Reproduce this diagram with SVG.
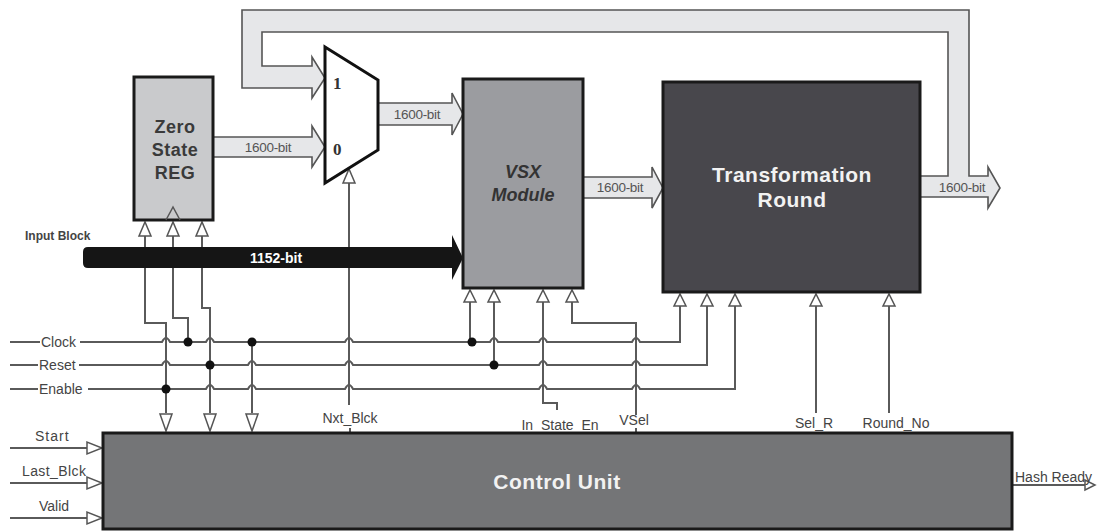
<svg xmlns="http://www.w3.org/2000/svg" width="1097" height="532" viewBox="0 0 1097 532">
<style>
.box{stroke:#1a1a1a;stroke-width:3}
.bus{fill:#e6e7e9;stroke:#555;stroke-width:1.6}
.sig{fill:none;stroke:#5a5a5a;stroke-width:2}
.tri{fill:#fff;stroke:#555;stroke-width:1.5}
.dot{fill:#111}
.lbl{font-family:"Liberation Sans",Arial,sans-serif;font-size:14px;fill:#444}
.bw{font-family:"Liberation Sans",Arial,sans-serif;font-size:13.5px;fill:#555;text-anchor:middle;letter-spacing:-0.3px}
.title{font-family:"Liberation Sans",Arial,sans-serif;font-weight:bold;text-anchor:middle}
</style>
<rect width="1097" height="532" fill="#fff"/>
<g id="connectors">
  <!-- feedback bus + output -->
  <polygon class="bus" points="920,176 948,176 948,32 262,32 262,66 312,66 312,57 325,78 312,98 312,88 242,88 242,10 969,10 969,176 988,176 988,167 1000,188 988,208 988,197 920,197"/>
  <text class="bw" x="962" y="192" font-size="12.5">1600-bit</text>
  <!-- zero reg to mux -->
  <polygon class="bus" points="213,137 312,137 312,126 325,147 312,167 312,157 213,157"/>
  <text class="bw" x="268" y="152">1600-bit</text>
  <!-- mux to VSX -->
  <polygon class="bus" points="378,103 452,103 452,93 463,114 452,135 452,125 378,125"/>
  <text class="bw" x="417" y="119">1600-bit</text>
  <!-- VSX to TR -->
  <polygon class="bus" points="583,177 652,177 652,167 663,188 652,208 652,198 583,198"/>
  <text class="bw" x="620" y="192" font-size="12.5">1600-bit</text>

  <!-- vertical signal lines -->
  <path class="sig" d="M145,236 V323 H166 V413"/>
  <path class="sig" d="M173,236 V318 H188 V342"/>
  <path class="sig" d="M202,236 V308 H210 V413"/>
  <path class="sig" d="M252,342 V413"/>
  <path class="sig" d="M349,182 V405 M350,428 V433"/>
  <path class="sig" d="M470,301 V342"/>
  <path class="sig" d="M494,301 V365"/>
  <path class="sig" d="M543,301 V403 H557 V410"/>
  <path class="sig" d="M572,301 V323 H636 V415 M636,428 V433"/>
  <path class="sig" d="M816,306 V413"/>
  <path class="sig" d="M889,306 V413"/>

  <!-- horizontal signals -->
  <path class="sig" d="M10,342 H40 M80,342 H162 Q166,334 170,342 H206 Q210,334 214,342 H345 Q349,334 353,342 H490 Q494,334 498,342 H539 Q543,334 547,342 H632 Q636,334 640,342 H680 V306"/>
  <path class="sig" d="M10,365 H38 M79,365 H162 Q166,357 170,365 H248 Q252,357 256,365 H345 Q349,357 353,365 H539 Q543,357 547,365 H632 Q636,357 640,365 H707 V306"/>
  <path class="sig" d="M10,389 H38 M88,389 H206 Q210,381 214,389 H248 Q252,381 256,389 H345 Q349,381 353,389 H539 Q543,381 547,389 H632 Q636,381 640,389 H735 V306"/>

  <circle class="dot" cx="188" cy="342" r="4.5"/>
  <circle class="dot" cx="252" cy="342" r="4.5"/>
  <circle class="dot" cx="472" cy="342" r="4.5"/>
  <circle class="dot" cx="210" cy="365" r="4.5"/>
  <circle class="dot" cx="494" cy="365" r="4.5"/>
  <circle class="dot" cx="166" cy="389" r="4.5"/>

  <!-- left inputs and output -->
  <path class="sig" d="M10,448 H87 M10,483 H87 M10,518 H87 M1012,485 H1086"/>
  <polygon class="tri" points="87,442 87,454 102,448"/>
  <polygon class="tri" points="87,477 87,489 102,483"/>
  <polygon class="tri" points="87,512 87,524 102,518"/>
  <polygon class="tri" points="1085,480 1085,490 1095,485"/>

  <!-- up triangles -->
  <polygon class="tri" points="139,236 151,236 145,222"/>
  <polygon class="tri" points="167,236 179,236 173,222"/>
  <polygon class="tri" points="196,236 208,236 202,222"/>
  <polygon class="tri" points="343,183 355,183 349,169"/>
  <polygon class="tri" points="464,302 476,302 470,290"/>
  <polygon class="tri" points="488,302 500,302 494,290"/>
  <polygon class="tri" points="537,302 549,302 543,290"/>
  <polygon class="tri" points="566,302 578,302 572,290"/>
  <polygon class="tri" points="674,306 686,306 680,294"/>
  <polygon class="tri" points="701,306 713,306 707,294"/>
  <polygon class="tri" points="729,306 741,306 735,294"/>
  <polygon class="tri" points="810,306 822,306 816,294"/>
  <polygon class="tri" points="883,306 895,306 889,294"/>
  <!-- down triangles into control unit -->
  <polygon class="tri" points="160,414 172,414 166,431"/>
  <polygon class="tri" points="204,414 216,414 210,431"/>
  <polygon class="tri" points="246,414 258,414 252,431"/>

  <!-- input block bus -->
  <path d="M88,247 H452 V235 L463,258 L452,280 V268 H88 Q83,268 83,263 V252 Q83,247 88,247 Z" fill="#151515"/>
  <text class="title" x="276" y="263" font-size="14" fill="#fff">1152-bit</text>
  <text x="25" y="240" font-family="Liberation Sans, Arial, sans-serif" font-size="12" font-weight="bold" fill="#444">Input Block</text>

  <!-- signal labels -->
  <text class="lbl" x="41" y="347">Clock</text>
  <text class="lbl" x="39" y="370" font-size="14.5">Reset</text>
  <text class="lbl" x="39" y="394" font-size="14.5">Enable</text>
  <text class="lbl" x="35" y="441" font-size="13" letter-spacing="1">Start</text>
  <text class="lbl" x="22" y="476" letter-spacing="0.4">Last_Blck</text>
  <text class="lbl" x="39" y="511">Valid</text>
  <text class="lbl" x="350" y="423" text-anchor="middle">Nxt_Blck</text>
  <text class="lbl" x="560" y="430" text-anchor="middle" font-size="14.5">In_State_En</text>
  <text class="lbl" x="634" y="425" text-anchor="middle">VSel</text>
  <text class="lbl" x="814" y="428" text-anchor="middle" font-size="14.5">Sel_R</text>
  <text class="lbl" x="896" y="428" text-anchor="middle" font-size="14.5">Round_No</text>
  <text class="lbl" x="1015" y="482">Hash Ready</text>
</g>

<g id="zero-state-reg">
  <rect class="box" x="134" y="77" width="79" height="143" fill="#c9cacc"/>
  <polyline points="166,220 173,207 180,220" fill="none" stroke="#555" stroke-width="1.5"/>
  <text class="title" font-size="18" fill="#3a3a3a" letter-spacing="0.5">
    <tspan x="175" y="133">Zero</tspan><tspan x="175" y="156">State</tspan><tspan x="175" y="179">REG</tspan>
  </text>
</g>

<g id="mux">
  <polygon points="325,47 378,80 378,150 325,183" fill="#fff" stroke="#111" stroke-width="3"/>
  <text x="333" y="89" font-family="Liberation Serif, Times New Roman, serif" font-size="17" font-weight="bold" fill="#333">1</text>
  <text x="333" y="155" font-family="Liberation Serif, Times New Roman, serif" font-size="17" font-weight="bold" fill="#333">0</text>
</g>

<g id="vsx-module">
  <rect class="box" x="463" y="79" width="120" height="209" fill="#9b9ca0"/>
  <text class="title" font-size="18" font-style="italic" fill="#333">
    <tspan x="523" y="178">VSX</tspan><tspan x="523" y="201">Module</tspan>
  </text>
</g>

<g id="transformation-round">
  <rect class="box" x="663" y="82" width="257" height="210" fill="#48474c"/>
  <text class="title" font-size="21" fill="#f2f2f2" letter-spacing="0.5">
    <tspan x="792" y="182">Transformation</tspan><tspan x="792" y="207">Round</tspan>
  </text>
</g>

<g id="control-unit">
  <rect class="box" x="103" y="433" width="909" height="96" fill="#747577"/>
  <text class="title" x="557" y="489" font-size="21" fill="#f2f2f2" letter-spacing="0.5">Control Unit</text>
</g>
</svg>
